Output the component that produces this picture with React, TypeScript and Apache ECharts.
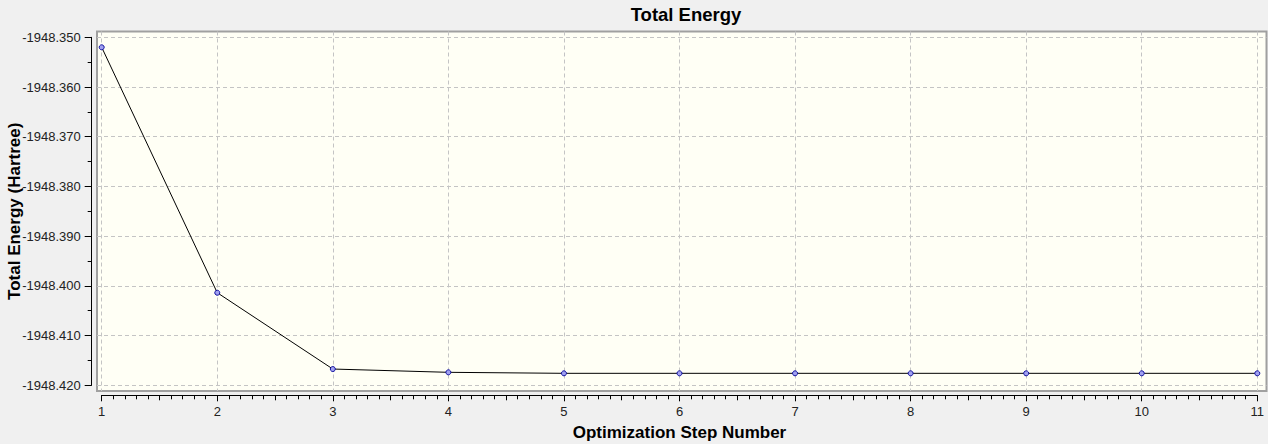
import React, { useEffect, useRef } from "react";
import * as echarts from "echarts";

const steps = [1, 2, 3, 4, 5, 6, 7, 8, 9, 10, 11];
const energies = [
  -1948.35201, -1948.40138, -1948.41673, -1948.41739, -1948.41759, -1948.41759,
  -1948.41759, -1948.41759, -1948.41759, -1948.41759, -1948.41759,
];
const yTicks = [-1948.42, -1948.41, -1948.4, -1948.39, -1948.38, -1948.37, -1948.36, -1948.35];
const xTicks = [1, 2, 3, 4, 5, 6, 7, 8, 9, 10, 11];

const chartTitle = "Total Energy";
const xName = "Optimization Step Number";
const yName = "Total Energy (Hartree)";

const FONT = "Arial, 'Liberation Sans', sans-serif";

export default function App() {
  const ref = useRef<HTMLDivElement>(null);
  useEffect(() => {
    if (!ref.current) return;
    const chart = echarts.init(ref.current, null, { renderer: "svg" });
    const pxPerStep = (1257.3 - 101.7) / 10;
    const pxPerUnit = (385.3 - 37.3) / 0.07;
    const xMin0 = 1 - (101.7 - 97) / pxPerStep;
    const xMax0 = 11 + (1266.5 - 1257.3) / pxPerStep;
    const yMax0 = -1948.35 + (37.3 - 31.5) / pxPerUnit;
    const yMin0 = -1948.42 - (391 - 385.3) / pxPerUnit;
    const data = steps.map((s, i) => [s, energies[i]]);
    chart.setOption({
      animation: false,
      backgroundColor: "#f0f0f0",
      title: {
        text: chartTitle,
        left: 681,
        top: 0,
        textAlign: "center",
        textStyle: { fontFamily: FONT, fontSize: 18.5, fontWeight: "bold", color: "#000" },
      },
      grid: [
        {
          left: 97,
          right: 1.5,
          top: 31.5,
          bottom: 53,
          show: true,
          backgroundColor: "#fffff5",
          borderColor: "#a0a0a0",
          borderWidth: 2,
          outerBoundsMode: "none",
          containLabel: false,
        },
        {
          left: 101.7,
          right: 1268 - 1257.3,
          top: 37.3,
          bottom: 444 - 385.3,
          outerBoundsMode: "none",
          containLabel: false,
        },
      ],
      xAxis: [
        {
          gridIndex: 0,
          type: "value",
          min: xMin0,
          max: xMax0,
          axisLine: { show: false },
          axisLabel: { show: false },
          axisTick: { show: false, customValues: xTicks },
          splitLine: { show: true, lineStyle: { color: "#c4c4c4", type: [4, 3], width: 1 } },
        },
        {
          gridIndex: 1,
          type: "value",
          min: 1,
          max: 11,
          interval: 1,
          position: "bottom",
          offset: 10,
          name: xName,
          nameLocation: "middle",
          nameGap: 29,
          nameMoveOverlap: false,
          nameTextStyle: { fontFamily: FONT, fontSize: 17, fontWeight: "bold", color: "#000" },
          axisLine: { show: true, lineStyle: { color: "#000", width: 1 } },
          axisTick: { show: true, length: 6, lineStyle: { color: "#000" } },
          minorTick: { show: true, splitNumber: 10, length: 4, lineStyle: { color: "#000" } },
          axisLabel: { fontFamily: FONT, fontSize: 13, color: "#222", margin: 10 },
          splitLine: { show: false },
        },
        {
          gridIndex: 1,
          type: "value",
          min: 1,
          max: 11,
          interval: 0.5,
          position: "bottom",
          offset: 10,
          axisLine: { show: false },
          axisTick: { show: true, length: 5, lineStyle: { color: "#000" } },
          axisLabel: { show: false },
          splitLine: { show: false },
        },
      ],
      yAxis: [
        {
          gridIndex: 0,
          type: "value",
          min: yMin0,
          max: yMax0,
          axisLine: { show: false },
          axisLabel: { show: false },
          axisTick: { show: false, customValues: yTicks },
          splitLine: { show: true, lineStyle: { color: "#c4c4c4", type: [4, 3], width: 1 } },
        },
        {
          gridIndex: 1,
          type: "value",
          min: -1948.42,
          max: -1948.35,
          interval: 0.01,
          position: "left",
          offset: 10,
          name: yName,
          nameLocation: "middle",
          nameGap: 69,
          nameMoveOverlap: false,
          nameTextStyle: { fontFamily: FONT, fontSize: 17, fontWeight: "bold", color: "#000" },
          axisLine: { show: true, lineStyle: { color: "#000", width: 1 } },
          axisTick: { show: true, length: 7, lineStyle: { color: "#000" } },
          minorTick: { show: true, splitNumber: 2, length: 4, lineStyle: { color: "#000" } },
          axisLabel: {
            fontFamily: FONT,
            fontSize: 13,
            color: "#222",
            margin: 11,
            formatter: (v: number) => v.toFixed(3),
          },
          splitLine: { show: false },
        },
      ],
      series: [
        {
          type: "line",
          xAxisIndex: 0,
          yAxisIndex: 0,
          data,
          symbol: "circle",
          symbolSize: 5,
          lineStyle: { color: "#000", width: 1 },
          itemStyle: { color: "#a0a0f0", borderColor: "#1010a0", borderWidth: 1 },
          clip: false,
        },
      ],
    });
    return () => chart.dispose();
  }, []);
  return (
    <div
      ref={ref}
      style={{ position: "fixed", left: 0, top: 0, width: 1268, height: 444, background: "#f0f0f0" }}
    />
  );
}
